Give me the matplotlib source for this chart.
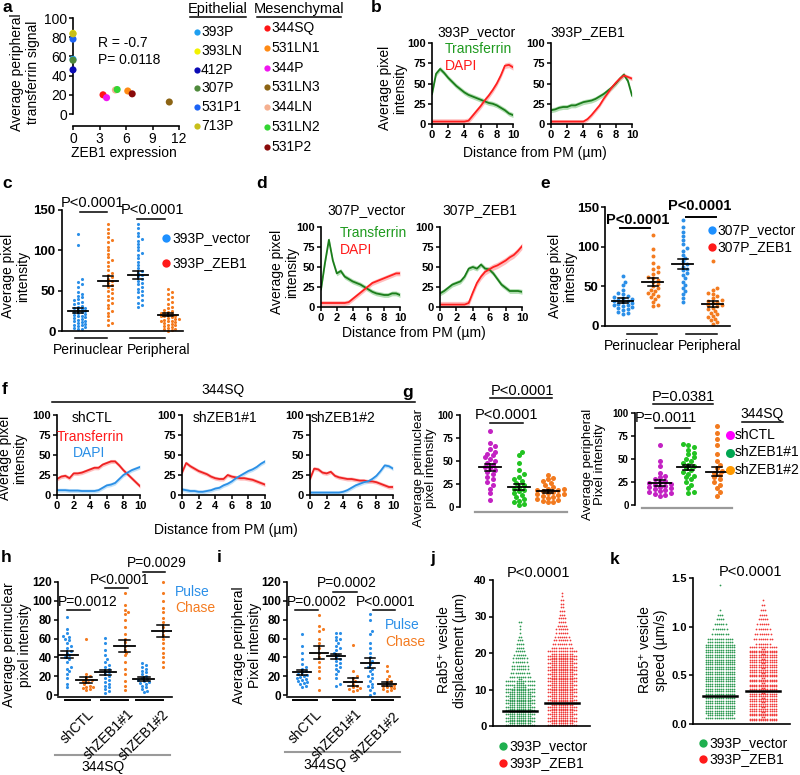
import math
import numpy as np
import matplotlib
matplotlib.use('Agg')
import matplotlib.pyplot as plt
from matplotlib.lines import Line2D

plt.rcParams['font.family'] = ['Liberation Sans', 'DejaVu Sans']

W, H = 800, 775
fig = plt.figure(figsize=(W / 100, H / 100), dpi=100)

# ---------------- data ----------------
# a: peripheral transferrin vs ZEB1
A_EPI = ['393P', '393LN', '412P', '307P', '531P1', '713P']
A_EPI_COL = ['#1f9ff0', '#f2f200', '#0b0bb5', '#4f8a3c', '#1c63f5', '#c8bf1a']
A_EPI_X = [0, 0, 0, 0, 0, 0]
A_EPI_Y = [57, 84, 46, 56, 78, 83.5]
A_MES = ['344SQ', '531LN1', '344P', '531LN3', '344LN', '531LN2', '531P2']
A_MES_COL = ['#ff1515', '#ff8a14', '#f015f0', '#8c6414', '#f5b090', '#33d633', '#8a0a0a']
A_MES_X = [3.4, 6.2, 3.8, 10.9, 4.8, 5.0, 6.7]
A_MES_Y = [20, 24, 17, 12.5, 25, 25.5, 21]

# distance from PM (um) for the profiles
DIST = [0, 0.5, 1, 1.5, 2, 2.5, 3, 3.5, 4, 4.5, 5, 5.5, 6, 6.5, 7, 7.5, 8, 8.5, 9, 9.5, 10]

B_VEC_TF = [37, 62, 68, 63, 57, 52, 47, 43, 39, 36, 34, 32, 30, 28, 26, 25, 23, 20, 17, 13, 11]
B_VEC_DAPI = [3, 3, 3, 3, 3, 3, 3, 3, 3, 4, 10, 16, 22, 29, 35, 42, 50, 60, 72, 73, 70]
B_ZEB_TF = [17, 18, 20, 21, 21, 23, 23, 25, 27, 28, 29, 31, 34, 37, 41, 45, 50, 56, 61, 53, 35]
B_ZEB_DAPI = [3, 3, 3, 3, 3, 3, 3, 3, 3, 6, 11, 17, 23, 31, 38, 45, 51, 56, 60, 58, 56]

D_VEC_TF = [22, 55, 84, 58, 42, 45, 38, 35, 32, 30, 28, 25, 22, 19, 17, 16, 15, 15, 17, 17, 15]
D_VEC_DAPI = [5, 5, 5, 5, 5, 5, 5, 6, 10, 14, 18, 22, 26, 30, 32, 34, 36, 38, 40, 42, 42]
D_ZEB_TF = [17, 20, 24, 28, 30, 32, 38, 48, 50, 48, 53, 48, 47, 42, 35, 28, 24, 20, 20, 20, 19]
D_ZEB_DAPI = [3, 3, 3, 3, 3, 3, 3, 5, 18, 30, 38, 44, 47, 50, 52, 55, 58, 62, 65, 70, 76]

F_CTL_TF = [20, 23, 24, 21, 27, 27, 28, 30, 32, 34, 34, 38, 40, 42, 42, 37, 31, 26, 21, 16, 11]
F_CTL_DAPI = [6, 6, 6, 5.5, 5.5, 5.5, 5, 5, 5, 5, 6, 9, 12, 13, 15, 20, 25, 28, 31, 33, 35]
F_Z1_TF = [28, 40, 36, 33, 30, 28, 26, 23, 21, 20, 20, 25, 23, 22, 21, 21, 20, 19, 17, 15, 13]
F_Z1_DAPI = [7, 6, 5, 5, 4, 4, 5, 6, 8, 9, 12, 14, 17, 21, 24, 27, 30, 32, 35, 39, 42]
F_Z2_TF = [20, 33, 32, 28, 27, 29, 24, 22, 21, 20, 20, 19, 18, 18, 17, 17, 16, 14, 12, 10, 10]
F_Z2_DAPI = [3, 3, 3, 3, 3, 3, 3, 3, 4, 6, 9, 12, 14, 16, 17, 20, 24, 30, 37, 36, 33]

# c: 393P vector / ZEB1
C_VEC_PERI = [120, 106, 64, 61, 58, 55, 48, 46, 44, 42, 40, 38, 36, 35, 33, 31, 30, 29, 28, 27,
              26, 25, 24, 23, 22, 21, 20, 19, 18, 17, 16, 15, 14, 13, 12, 11, 10, 9, 8, 7, 6, 5, 4, 3, 2]
C_ZEB_PERI = [133, 127, 122, 116, 113, 110, 104, 100, 96, 92, 88, 85, 80, 76, 72, 70, 67, 64, 62,
              60, 57, 55, 52, 50, 47, 44, 41, 38, 35, 32, 28, 25, 22, 18, 14, 10, 8]
C_VEC_PERIP = [133, 128, 122, 118, 114, 112, 108, 104, 100, 97, 94, 90, 86, 82, 78, 75, 72, 70, 68,
               65, 62, 60, 58, 55, 52, 50, 48, 45, 42, 38, 35, 32, 30]
C_ZEB_PERIP = [52, 48, 46, 42, 40, 36, 33, 30, 28, 26, 25, 24, 22, 22, 21, 20, 19, 18, 18, 17, 16,
               15, 15, 14, 13, 12, 12, 11, 10, 9, 8, 7, 6, 5, 4, 3, 2, 1, 0]
C_MEAN = [25, 62, 69, 20]
C_SEM = [3, 6.5, 5, 2]

# e: 307P vector / ZEB1
E_VEC_PERI = [63, 56, 52, 45, 42, 40, 38, 36, 35, 34, 33, 32, 31, 30, 29, 28, 27, 26, 25, 24, 23,
              22, 20, 18, 16, 15]
E_ZEB_PERI = [115, 97, 88, 80, 75, 72, 68, 65, 62, 60, 58, 55, 53, 50, 48, 46, 44, 42, 40, 38, 36,
              34, 30, 27, 25]
E_VEC_PERIP = [133, 125, 118, 113, 108, 103, 98, 95, 90, 86, 82, 78, 75, 72, 70, 67, 64, 60, 56, 52,
               48, 44, 40, 35, 30]
E_ZEB_PERIP = [82, 48, 45, 42, 40, 38, 35, 33, 31, 30, 29, 27, 26, 25, 23, 21, 19, 17, 15, 13, 11,
               9, 7, 5, 3]
E_MEAN = [32, 56, 78, 28]
E_SEM = [3, 5, 6, 4]

# g: 344SQ shCTL / shZEB1#1 / shZEB1#2
G_PERI = [
    [83, 70, 66, 63, 60, 58, 56, 54, 52, 50, 48, 46, 44, 42, 40, 38, 36, 33, 30, 27, 24, 20, 15, 8],
    [60, 56, 48, 40, 36, 33, 30, 28, 26, 24, 22, 20, 18, 17, 15, 13, 11, 9, 7, 5, 3, 2],
    [35, 32, 30, 28, 26, 24, 22, 20, 20, 19, 18, 17, 16, 15, 14, 14, 13, 12, 11, 10, 9, 8, 7, 6, 5],
]
G_PERI_MEAN = [43, 22, 17]
G_PERI_SEM = [4, 3, 2]
G_PERIP = [
    [65, 48, 42, 35, 32, 30, 28, 26, 25, 24, 23, 22, 21, 20, 19, 18, 17, 16, 15, 14, 13, 12, 11, 10],
    [66, 65, 63, 60, 57, 55, 52, 50, 48, 46, 44, 42, 40, 38, 36, 34, 32, 30, 28, 25, 22, 18, 14, 13],
    [86, 78, 72, 65, 55, 48, 44, 40, 37, 35, 33, 30, 28, 25, 22, 18, 14, 10],
]
G_PERIP_MEAN = [24, 41, 36]
G_PERIP_SEM = [3, 3, 5]
G_GROUPS = ['shCTL', 'shZEB1#1', 'shZEB1#2']

# h / i: pulse-chase (pulse, chase for each shRNA)
H_VALS = [
    [83, 70, 66, 63, 62, 60, 58, 55, 52, 50, 47, 45, 42, 40, 38, 35, 30, 28, 25, 22, 18, 12, 8],
    [59, 22, 20, 18, 16, 15, 14, 12, 10, 9, 8, 7, 6, 5],
    [61, 55, 48, 42, 38, 35, 32, 30, 28, 26, 24, 22, 20, 18, 16, 14, 12, 10, 8, 6, 4, 2],
    [108, 96, 90, 88, 86, 80, 72, 65, 60, 56, 52, 48, 45, 42, 35, 28, 22, 15, 10, 5],
    [34, 32, 30, 28, 26, 24, 22, 20, 18, 17, 16, 15, 14, 13, 12, 10, 8, 6, 4, 3],
    [120, 108, 100, 92, 88, 82, 78, 72, 68, 64, 60, 55, 50, 45, 40, 35, 30],
]
H_MEAN = [43, 16, 24, 52, 17, 68]
H_SEM = [4, 3, 3, 6, 2, 6]
I_VALS = [
    [65, 52, 45, 38, 33, 30, 28, 26, 24, 22, 21, 20, 19, 18, 17, 16, 15, 14, 13, 12, 10, 9],
    [85, 73, 70, 68, 60, 55, 50, 45, 40, 35, 30, 25, 18, 5],
    [66, 66, 62, 60, 58, 55, 52, 50, 48, 45, 43, 40, 38, 36, 34, 32, 30, 28, 25, 22, 18, 12, 10],
    [53, 25, 20, 18, 15, 12, 10, 8, 7, 6, 5, 4],
    [86, 80, 68, 65, 55, 50, 45, 40, 36, 33, 30, 28, 25, 22, 20, 18, 15, 12, 10, 8, 5, 2, 0],
    [31, 25, 20, 17, 15, 13, 11, 10, 9, 8, 7, 6, 5, 4],
]
I_MEAN = [24, 45, 41, 14, 34, 12]
I_SEM = [3, 7, 3, 4, 5, 2]

# j / k: Rab5+ vesicles, counts of dots per value bin
J_BINS_VEC = list(range(0, 29))
J_CNT_VEC = [24, 24, 24, 24, 24, 24, 24, 24, 24, 22, 20, 18, 16, 10, 9, 8, 8, 7, 7, 6, 5, 4, 4, 3,
             2, 1, 1, 1, 2]
J_BINS_ZEB = list(range(0, 37))
J_CNT_ZEB = [24] * 20 + [14, 10, 9, 8, 7, 6, 6, 5, 4, 4, 3, 3, 2, 2, 2, 1, 1]
J_MEDIAN = [4.2, 6.3]
K_BINS_VEC = [0.05, 0.10, 0.15, 0.20, 0.25, 0.30, 0.35, 0.40, 0.45, 0.50, 0.55, 0.60, 0.65, 0.70,
              0.75, 0.80, 0.85, 0.90, 0.95, 1.00, 1.05, 1.10, 1.15, 1.40]
K_CNT_VEC = [26, 28, 28, 28, 28, 28, 28, 28, 28, 28, 28, 28, 28, 28, 28, 26, 12, 8, 7, 6, 4, 3, 1, 1]
K_BINS_ZEB = [0.03, 0.08, 0.13, 0.18, 0.23, 0.28, 0.33, 0.38, 0.43, 0.48, 0.53, 0.58, 0.63, 0.68,
              0.73, 0.78, 0.85, 0.90, 0.95, 1.00, 1.05, 1.10, 1.15, 1.20, 1.25]
K_CNT_ZEB = [28, 28, 28, 28, 28, 28, 28, 28, 28, 28, 28, 28, 28, 28, 28, 20, 9, 8, 7, 6, 5, 4, 3, 2, 1]
K_MEDIAN = [0.29, 0.34]

# colours
GREEN_LINE, GREEN_BAND = '#1b7d1b', '#93d193'
RED_LINE, RED_BAND = '#ff2020', '#ffa3a3'
BLUE_LINE, BLUE_BAND = '#2a8fe6', '#a9d5f6'
C_BLUE, C_ORANGE = '#2b8fe8', '#f47b20'
G_COLS = ['#c322c3', '#22c322', '#f27a1f']


# ---------------- helpers ----------------
def add_ax(l, t, r, b):
    return fig.add_axes([l / W, 1 - b / H, (r - l) / W, (b - t) / H])


def ftext(x, y, s, **kw):
    kw.setdefault('ha', 'center')
    kw.setdefault('va', 'center')
    kw.setdefault('fontsize', 10)
    fig.text(x / W, 1 - y / H, s, **kw)


def fline(x0, x1, y, color='k', lw=1.1):
    fig.add_artist(Line2D([x0 / W, x1 / W], [1 - y / H, 1 - y / H], color=color, lw=lw))


def fdot(x, y, color, ms=5):
    fig.add_artist(Line2D([x / W], [1 - y / H], marker='o', ms=ms, color=color, lw=0, mew=0))


def style(ax, xt, yt, fs=8, bold=True, xlab=None, ylab=None):
    ax.spines['top'].set_visible(False)
    ax.spines['right'].set_visible(False)
    for s in ('left', 'bottom'):
        ax.spines[s].set_linewidth(1.2)
    ax.tick_params(direction='out', length=3, width=1.1, pad=1.5)
    fw = 'bold' if bold else 'normal'
    ax.set_yticks(yt, ylab if ylab else [str(v) for v in yt], fontsize=fs, fontweight=fw)
    if xt is None:
        ax.set_xticks([])
    else:
        ax.set_xticks(xt, xlab if xlab else [str(v) for v in xt], fontsize=fs, fontweight=fw)


def profile(ax, y, err, color, band):
    y = np.array(y, dtype=float)
    ax.fill_between(DIST, y - err, y + err, color=band, lw=0, alpha=0.7)
    ax.plot(DIST, y, color=color, lw=1.3)


def profile_ax(box, curves):
    ax = add_ax(*box)
    for y, err, c, b in curves:
        profile(ax, y, err, c, b)
    ax.set_xlim(0, 10)
    ax.set_ylim(0, 100)
    style(ax, [0, 2, 4, 6, 8, 10], [0, 25, 50, 75, 100], fs=8)
    return ax


def swarm(ax, xc, vals, color, d_px, s):
    tr = ax.transData
    inv = tr.inverted()
    x0 = tr.transform((xc, 0))[0]
    placed, xs, ys = [], [], []
    for v in sorted(vals):
        yp = tr.transform((xc, v))[1]
        j = 0
        while True:
            off = 0 if j == 0 else ((j + 1) // 2) * d_px * 0.6 * (1 if j % 2 else -1)
            if all((px - x0 - off) ** 2 + (py - yp) ** 2 >= d_px ** 2 for px, py in placed):
                break
            j += 1
        placed.append((x0 + off, yp))
        xs.append(inv.transform((x0 + off, yp))[0])
        ys.append(v)
    ax.scatter(xs, ys, s=s, color=color, lw=0, clip_on=False, zorder=2)


def mean_sem(ax, xc, m, e, hw, cw):
    ax.plot([xc - hw, xc + hw], [m, m], color='k', lw=1.3, zorder=3)
    ax.plot([xc, xc], [m - e, m + e], color='k', lw=1.1, zorder=3)
    for yy in (m - e, m + e):
        ax.plot([xc - cw, xc + cw], [yy, yy], color='k', lw=1.1, zorder=3)


def dot_column(ax, xc, bins, counts, bin_h, width_px, sp_px, color):
    tr = ax.transData
    ux = tr.transform((1, 0))[0] - tr.transform((0, 0))[0]
    per_row = int(width_px // sp_px)
    xs, ys = [], []
    for v, n in zip(bins, counts):
        rows = max(1, math.ceil(n / per_row))
        for r in range(rows):
            m = min(per_row, n - r * per_row)
            yv = v + bin_h * (r + 0.5) / rows
            for c in range(m):
                xs.append(xc + (c - (m - 1) / 2) * sp_px / ux)
                ys.append(yv)
    ax.scatter(xs, ys, s=1.6, color=color, lw=0, zorder=2)


# ---------------- panel labels ----------------
for lab, x, y in [('a', 7, 8), ('b', 376, 8), ('c', 7, 183), ('d', 262, 183), ('e', 545, 183),
                  ('f', 5, 390), ('g', 408, 393), ('h', 6, 558), ('i', 219, 558),
                  ('j', 433, 559), ('k', 615, 559)]:
    ftext(x, y, lab, fontsize=12.5, fontweight='bold')

# ---------------- a ----------------
ax = add_ax(73, 18, 179, 126)
ax.scatter(A_EPI_X, A_EPI_Y, s=26, c=A_EPI_COL, lw=0, clip_on=False, zorder=3)
ax.scatter(A_MES_X, A_MES_Y, s=26, c=A_MES_COL, lw=0, clip_on=False, zorder=3)
ax.set_xlim(0, 12)
ax.set_ylim(-12.5, 100)
style(ax, [0, 3, 6, 9, 12], [0, 20, 40, 60, 80, 100], fs=10, bold=False)
ax.spines['left'].set_bounds(0, 100)
ax.spines['bottom'].set_bounds(0, 12)
ftext(98, 43, 'R = -0.7', ha='left')
ftext(98, 60, 'P= 0.0118', ha='left')
ftext(124, 153, 'ZEB1 expression')
ftext(25, 72, 'Average peripheral\ntransferrin signal', rotation=90, linespacing=1.1)
ftext(218, 9, 'Epithelial', fontsize=10.5)
fline(190, 246, 17)
ftext(299, 9, 'Mesenchymal', fontsize=10.5)
fline(257, 341, 17)
for i, (n, c) in enumerate(zip(A_EPI, A_EPI_COL)):
    y = 32 + i * 18.8
    fdot(197, y, c, ms=4.5)
    ftext(201, y, n, ha='left')
for i, (n, c) in enumerate(zip(A_MES, A_MES_COL)):
    y = 28 + i * 19.8
    fdot(267, y, c, ms=4.5)
    ftext(271, y, n, ha='left')

# ---------------- b ----------------
profile_ax((432, 43, 513, 124), [(B_VEC_TF, 3, GREEN_LINE, GREEN_BAND),
                                 (B_VEC_DAPI, 3.5, RED_LINE, RED_BAND)])
profile_ax((551, 43, 632, 124), [(B_ZEB_TF, 3, GREEN_LINE, GREEN_BAND),
                                 (B_ZEB_DAPI, 2.5, RED_LINE, RED_BAND)])
ftext(477, 32, '393P_vector')
ftext(588, 32, '393P_ZEB1')
ftext(445, 49, 'Transferrin', ha='left', color='#1f9a1f')
ftext(445, 66, 'DAPI', ha='left', color='#ff1a1a')
ftext(393, 88, 'Average pixel\nintensity', rotation=90, linespacing=1.1)
ftext(535, 153, 'Distance from PM (\u00b5m)')

# ---------------- c ----------------
ax = add_ax(62, 210, 183, 331)
ax.set_xlim(0.465, 4.5)
ax.set_ylim(0, 150)
style(ax, None, [0, 50, 100, 150], fs=9.5)
for i, (vals, col) in enumerate([(C_VEC_PERI, C_BLUE), (C_ZEB_PERI, C_ORANGE),
                                 (C_VEC_PERIP, C_BLUE), (C_ZEB_PERIP, C_ORANGE)]):
    swarm(ax, i + 1, vals, col, 3.1, 5)
    mean_sem(ax, i + 1, C_MEAN[i], C_SEM[i], 0.33, 0.17)
ftext(92, 203, 'P<0.0001', fontsize=10.5)
fline(80, 107, 212)
ftext(153, 210, 'P<0.0001', fontsize=10.5)
fline(137, 165, 219)
fdot(166, 238, '#1e90ff', ms=6)
ftext(172, 238, '393P_vector', ha='left')
fdot(166, 263, '#ff1a1a', ms=6)
ftext(172, 263, '393P_ZEB1', ha='left')
fline(75, 107, 338)
fline(130, 165, 338)
ftext(88, 350, 'Perinuclear')
ftext(159, 350, 'Peripheral')
ftext(16, 276, 'Average pixel\nintensity', rotation=90, linespacing=1.1)

# ---------------- d ----------------
profile_ax((321, 227, 400, 307), [(D_VEC_TF, 3, GREEN_LINE, GREEN_BAND),
                                  (D_VEC_DAPI, 3, RED_LINE, RED_BAND)])
profile_ax((440, 227, 522, 307), [(D_ZEB_TF, 3, GREEN_LINE, GREEN_BAND),
                                  (D_ZEB_DAPI, 4, RED_LINE, RED_BAND)])
ftext(367, 210, '307P_vector')
ftext(480, 210, '307P_ZEB1')
ftext(340, 233, 'Transferrin', ha='left', color='#1f9a1f')
ftext(340, 250, 'DAPI', ha='left', color='#ff1a1a')
ftext(285, 272, 'Average pixel\nintensity', rotation=90, linespacing=1.1)
ftext(414, 333, 'Distance from PM (\u00b5m)')

# ---------------- e ----------------
ax = add_ax(605, 207, 730, 326)
ax.set_xlim(0.4, 4.57)
ax.set_ylim(0, 150)
style(ax, None, [0, 50, 100, 150], fs=9.5)
for i, (vals, col) in enumerate([(E_VEC_PERI, C_BLUE), (E_ZEB_PERI, C_ORANGE),
                                 (E_VEC_PERIP, C_BLUE), (E_ZEB_PERIP, C_ORANGE)]):
    swarm(ax, i + 1, vals, col, 3.8, 8)
    mean_sem(ax, i + 1, E_MEAN[i], E_SEM[i], 0.35, 0.18)
ftext(638, 220, 'P<0.0001', fontsize=10.5, fontweight='bold')
fline(620, 650, 228, lw=1.4)
ftext(700, 206, 'P<0.0001', fontsize=10.5, fontweight='bold')
fline(686, 716, 217, lw=1.4)
fdot(712, 230, '#1e90ff', ms=6)
ftext(717, 230, '307P_vector', ha='left')
fdot(712, 247, '#ff1a1a', ms=6)
ftext(717, 247, '307P_ZEB1', ha='left')
fline(627, 657, 334)
fline(686, 717, 334)
ftext(639, 346, 'Perinuclear')
ftext(710, 346, 'Peripheral')
ftext(563, 276, 'Average pixel\nintensity', rotation=90, linespacing=1.1)

# ---------------- f ----------------
for box, tf, dapi, title, tx in [((57, 415, 140, 495), F_CTL_TF, F_CTL_DAPI, 'shCTL', 92),
                                 ((182, 415, 265, 495), F_Z1_TF, F_Z1_DAPI, 'shZEB1#1', 225),
                                 ((310, 415, 393, 495), F_Z2_TF, F_Z2_DAPI, 'shZEB1#2', 343)]:
    profile_ax(box, [(tf, 2.5, '#ee2222', RED_BAND), (dapi, 2.5, BLUE_LINE, BLUE_BAND)])
    ftext(tx, 418, title)
ftext(223, 390, '344SQ')
fline(52, 415, 402)
ftext(57, 437, 'Transferrin', ha='left', color='#ff1a1a')
ftext(73, 453, 'DAPI', ha='left', color='#2a8fe6')
ftext(13, 458, 'Average pixel\nintensity', rotation=90, linespacing=1.1)
ftext(226, 530, 'Distance from PM (\u00b5m)')

# ---------------- g ----------------
ax = add_ax(460, 415, 567, 512)
ax.set_xlim(-0.03, 3.66)
ax.set_ylim(-5.4, 100)
style(ax, None, [0, 25, 50, 75, 100], fs=7)
ax.spines['left'].set_bounds(0, 100)
ax.spines['bottom'].set_bounds(0.48, 3.66)
ax.spines['bottom'].set_color('#9a9a9a')
ax.spines['bottom'].set_linewidth(1.6)
for i in range(3):
    swarm(ax, i + 1, G_PERI[i], G_COLS[i], 4.4, 13)
    mean_sem(ax, i + 1, G_PERI_MEAN[i], G_PERI_SEM[i], 0.38, 0.18)
ftext(523, 391, 'P<0.0001', fontsize=10.5)
fline(490, 552, 398)
ftext(507, 415, 'P<0.0001', fontsize=10.5)
fline(490, 523, 423)
ftext(425, 468, 'Average perinuclear\npixel intensity', rotation=90, linespacing=1.1,
      fontsize=9.5)

ax = add_ax(635, 413, 732, 508)
ax.set_xlim(0.12, 3.53)
ax.set_ylim(-3.3, 100)
style(ax, None, [0, 25, 50, 75, 100], fs=7)
ax.spines['left'].set_bounds(0, 100)
ax.spines['bottom'].set_bounds(0.37, 3.53)
ax.spines['bottom'].set_color('#9a9a9a')
ax.spines['bottom'].set_linewidth(1.6)
for i in range(3):
    swarm(ax, i + 1, G_PERIP[i], G_COLS[i], 4.4, 13)
    mean_sem(ax, i + 1, G_PERIP_MEAN[i], G_PERIP_SEM[i], 0.4, 0.19)
ftext(683, 397, 'P=0.0381', fontsize=10.5)
fline(653, 713, 404)
ftext(666, 418, 'P=0.0011', fontsize=10.5)
fline(655, 690, 428)
ftext(594, 464, 'Average peripheral\nPixel intensity', rotation=90, linespacing=1.1,
      fontsize=9.5)
ftext(762, 414, '344SQ')
fline(742, 783, 422)
for i, (n, c) in enumerate(zip(G_GROUPS, ['#ff00ff', '#00a651', '#ff9900'])):
    y = 435 + i * 17.5
    fdot(730, y, c, ms=6.5)
    ftext(735, y, n, ha='left')

# ---------------- h / i ----------------
PC_COLS = [C_BLUE, C_ORANGE] * 3
for box, xl, vals, means, sems, pos, ends, bars, gline, gtext, ylab, ylx in [
        ((58, 582, 172, 697), (0.53, 6.47), H_VALS, H_MEAN, H_SEM,
         [1, 2, 3, 4, 5, 6], [(87, 707), (127, 707), (162, 707)],
         [(65, 90), (101, 128), (136, 163)], (55, 170, 755), (103, 767),
         'Average perinuclear\npixel intensity', 17),
        ((287, 582, 400, 697), (0.12, 6.76), I_VALS, I_MEAN, I_SEM,
         [1, 2, 3, 4, 5, 6], [(315, 707), (355, 707), (393, 709)],
         [(293, 317), (333, 355), (372, 393)], (285, 400, 752), (325, 765),
         'Average peripheral\nPixel intensity', 247)]:
    ax = add_ax(*box)
    ax.set_xlim(*xl)
    ax.set_ylim(-2.1, 120)
    style(ax, None, [0, 20, 40, 60, 80, 100, 120], fs=8.5)
    ax.spines['left'].set_bounds(0, 120)
    for k in range(6):
        swarm(ax, pos[k], vals[k], PC_COLS[k], 3.0, 5)
        mean_sem(ax, pos[k], means[k], sems[k], 0.55, 0.3)
    for (x0, x1) in bars:
        fline(x0, x1, 700, lw=1.4)
    for (ex, ey), n in zip(ends, G_GROUPS):
        ftext(ex, ey, n, ha='right', va='top', rotation=45, rotation_mode='anchor')
    fline(gline[0], gline[1], gline[2], color='#9a9a9a', lw=1.5)
    ftext(gtext[0], gtext[1], '344SQ')
    ftext(ylx, 645, ylab, rotation=90, linespacing=1.1)

ftext(88, 602, 'P=0.0012')
fline(67, 90, 610)
ftext(120, 580, 'P<0.0001')
fline(105, 128, 588)
ftext(157, 563, 'P=0.0029')
fline(143, 165, 572)
ftext(175, 592, 'Pulse', ha='left', color='#2b8fe8')
ftext(175, 608, 'Chase', ha='left', color='#f47b20')

ftext(317, 602, 'P=0.0002')
fline(295, 318, 610)
ftext(347, 583, 'P=0.0002')
fline(333, 357, 592)
ftext(386, 602, 'P<0.0001')
fline(373, 395, 610)
ftext(385, 625, 'Pulse', ha='left', color='#2b8fe8')
ftext(385, 642, 'Chase', ha='left', color='#f47b20')

# ---------------- j ----------------
ax = add_ax(493, 580, 590, 726)
ax.set_xlim(0.357, 2.67)
ax.set_ylim(0, 40)
style(ax, None, [0, 10, 20, 30, 40], fs=8)
dot_column(ax, 1, J_BINS_VEC, J_CNT_VEC, 1, 32, 2.2, '#2e9a52')
dot_column(ax, 2, J_BINS_ZEB, J_CNT_ZEB, 1, 31, 2.2, '#f03a3a')
for xc, m in zip([1, 2], J_MEDIAN):
    ax.plot([xc - 0.4, xc + 0.4], [m, m], color='k', lw=1.8, zorder=3)
ftext(538, 573, 'P<0.0001', fontsize=10.5)
ftext(452, 650, 'Rab5\u207a vesicle\ndisplacement (\u00b5m)', rotation=90, linespacing=1.1)
fdot(503, 746, '#1fb04f', ms=6)
ftext(509, 746, '393P_vector', ha='left')
fdot(503, 763, '#ff1a1a', ms=6)
ftext(509, 763, '393P_ZEB1', ha='left')

# ---------------- k ----------------
ax = add_ax(693, 578, 790, 724)
ax.set_xlim(0.37, 2.63)
ax.set_ylim(0, 1.5)
style(ax, None, [0, 0.5, 1.0, 1.5], fs=8, ylab=['0.0', '0.5', '1.0', '1.5'])
dot_column(ax, 1, K_BINS_VEC, K_CNT_VEC, 0.05, 31, 2.2, '#2e9a52')
dot_column(ax, 2, K_BINS_ZEB, K_CNT_ZEB, 0.05, 30, 2.2, '#f03a3a')
for xc, m in zip([1, 2], K_MEDIAN):
    ax.plot([xc - 0.4, xc + 0.4], [m, m], color='k', lw=1.8, zorder=3)
ftext(750, 572, 'P<0.0001', fontsize=10.5)
ftext(653, 650, 'Rab5\u207a vesicle\nspeed (\u00b5m/s)', rotation=90, linespacing=1.1)
fdot(703, 743, '#1fb04f', ms=6)
ftext(709, 743, '393P_vector', ha='left')
fdot(703, 759, '#ff1a1a', ms=6)
ftext(709, 759, '393P_ZEB1', ha='left')

fig.savefig('out.png', dpi=100)
